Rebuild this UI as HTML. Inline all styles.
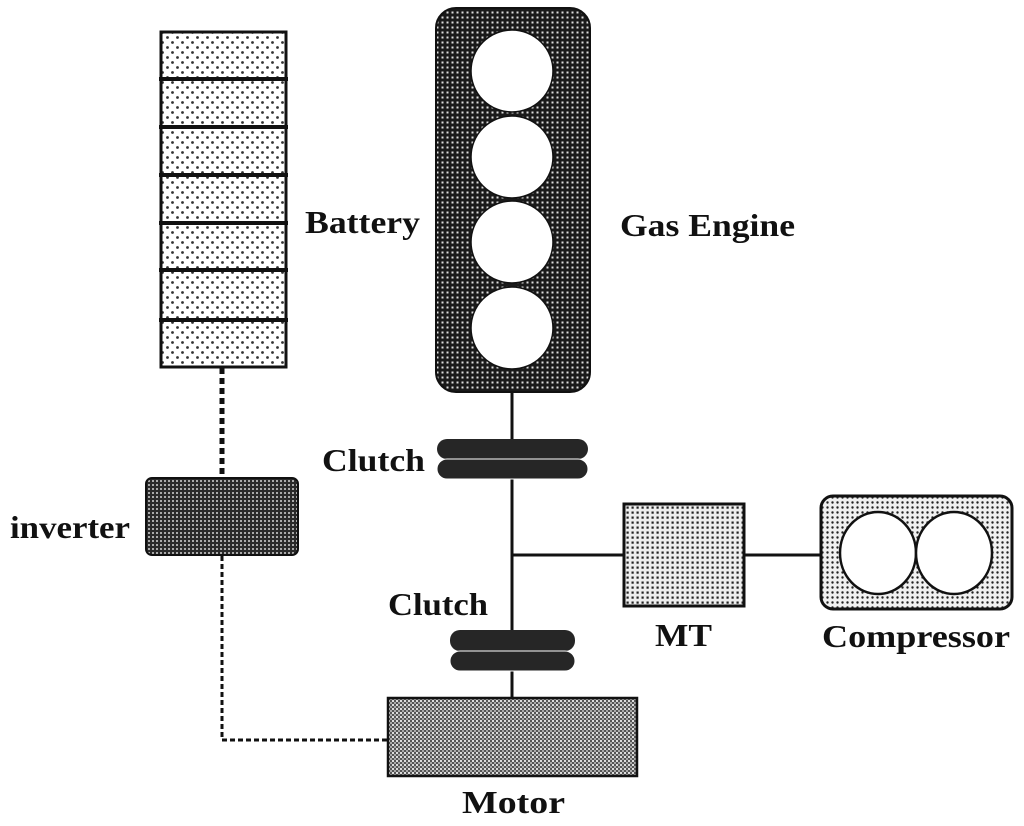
<!DOCTYPE html>
<html><head><style>
html,body{margin:0;padding:0;background:#fff;}
svg{display:block;}
text{font-family:"Liberation Serif",serif;font-weight:bold;fill:#111;}
</style></head><body>
<svg width="1024" height="826" viewBox="0 0 1024 826" xmlns="http://www.w3.org/2000/svg">
<defs>
<pattern id="bat" width="10" height="10" patternUnits="userSpaceOnUse">
<rect width="10" height="10" fill="#fff"/><circle cx="2.5" cy="2.5" r="1.4" fill="#333"/><circle cx="7.5" cy="7.5" r="1.4" fill="#333"/>
</pattern>
<pattern id="eng" width="5" height="5" patternUnits="userSpaceOnUse">
<rect width="5" height="5" fill="#1a1a1a"/><rect x="1.5" y="1.5" width="2" height="2" fill="#ddd"/>
</pattern>
<pattern id="inv" width="4" height="4" patternUnits="userSpaceOnUse">
<rect width="4" height="4" fill="#2a2a2a"/><rect x="0" y="0" width="2" height="2" fill="#aaa"/>
</pattern>
<pattern id="mot" width="4" height="4" patternUnits="userSpaceOnUse">
<rect width="4" height="4" fill="#555"/><rect x="0" y="0" width="2" height="2" fill="#ddd"/><rect x="2" y="2" width="2" height="2" fill="#aaa"/>
</pattern>
<pattern id="mt" width="5" height="5" patternUnits="userSpaceOnUse">
<rect width="5" height="5" fill="#eee"/><rect x="1.5" y="1.5" width="2.2" height="2.2" fill="#222"/>
</pattern>
<pattern id="cmp" width="5" height="5" patternUnits="userSpaceOnUse">
<rect width="5" height="5" fill="#f0f0f0"/><circle cx="2.5" cy="2.5" r="1.2" fill="#222"/>
</pattern>
</defs>

<rect x="161" y="32" width="125" height="335" fill="url(#bat)" stroke="#111" stroke-width="3"/>
<g stroke="#111" stroke-width="4">
<line x1="159" y1="79" x2="288" y2="79"/><line x1="159" y1="127" x2="288" y2="127"/>
<line x1="159" y1="175" x2="288" y2="175"/><line x1="159" y1="223" x2="288" y2="223"/>
<line x1="159" y1="270" x2="288" y2="270"/><line x1="159" y1="320" x2="288" y2="320"/>
</g>

<rect x="436" y="8" width="154" height="384" rx="20" fill="url(#eng)" stroke="#111" stroke-width="2"/>
<g fill="#fff" stroke="#111" stroke-width="1.5">
<circle cx="512" cy="71" r="41"/><circle cx="512" cy="157" r="41"/>
<circle cx="512" cy="242" r="41"/><circle cx="512" cy="328" r="41"/>
</g>

<line x1="512" y1="392" x2="512" y2="700" stroke="#111" stroke-width="3"/>
<line x1="512" y1="555" x2="625" y2="555" stroke="#111" stroke-width="3"/>
<line x1="745" y1="555" x2="822" y2="555" stroke="#111" stroke-width="3"/>

<rect x="437" y="439" width="151" height="20" rx="10" fill="#262626"/>
<rect x="437" y="459" width="151" height="20" rx="10" fill="#262626" stroke="#fff" stroke-width="1"/>
<rect x="450" y="630" width="125" height="21" rx="10" fill="#262626"/>
<rect x="450" y="651" width="125" height="20" rx="10" fill="#262626" stroke="#fff" stroke-width="1"/>

<rect x="624" y="504" width="120" height="102" fill="url(#mt)" stroke="#111" stroke-width="3"/>

<rect x="821" y="496" width="191" height="113" rx="12" fill="url(#cmp)" stroke="#111" stroke-width="3"/>
<ellipse cx="878" cy="553" rx="38" ry="41" fill="#fff" stroke="#111" stroke-width="2.5"/>
<ellipse cx="954" cy="553" rx="38" ry="41" fill="#fff" stroke="#111" stroke-width="2.5"/>

<rect x="146" y="478" width="152" height="77" rx="6" fill="url(#inv)" stroke="#111" stroke-width="2"/>

<rect x="388" y="698" width="249" height="78" fill="url(#mot)" stroke="#111" stroke-width="2.5"/>

<line x1="222" y1="368" x2="222" y2="477" stroke="#111" stroke-width="5" stroke-dasharray="6,4"/>
<polyline points="222,556 222,740 388,740" fill="none" stroke="#111" stroke-width="3" stroke-dasharray="5,3"/>

<text x="305" y="233" font-size="32" textLength="115" lengthAdjust="spacingAndGlyphs">Battery</text>
<text x="620" y="236" font-size="32" textLength="175" lengthAdjust="spacingAndGlyphs">Gas Engine</text>
<text x="322" y="471" font-size="32" textLength="103" lengthAdjust="spacingAndGlyphs">Clutch</text>
<text x="388" y="615" font-size="32" textLength="100" lengthAdjust="spacingAndGlyphs">Clutch</text>
<text x="10" y="538" font-size="32" textLength="120" lengthAdjust="spacingAndGlyphs">inverter</text>
<text x="655" y="646" font-size="32" textLength="57" lengthAdjust="spacingAndGlyphs">MT</text>
<text x="822" y="647" font-size="32" textLength="188" lengthAdjust="spacingAndGlyphs">Compressor</text>
<text x="462" y="813" font-size="32" textLength="103" lengthAdjust="spacingAndGlyphs">Motor</text>
</svg>
</body></html>
